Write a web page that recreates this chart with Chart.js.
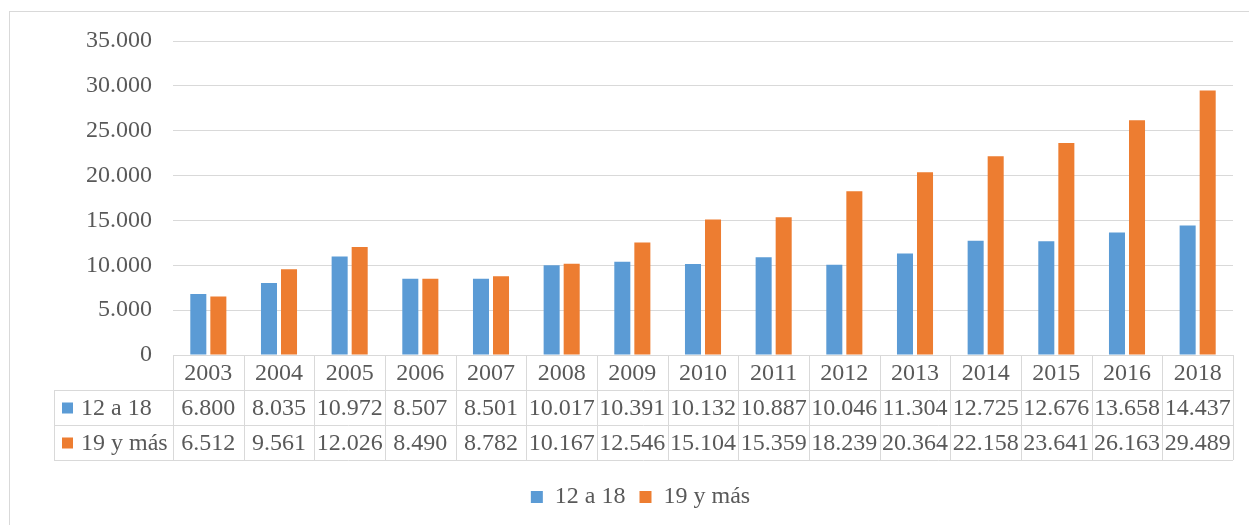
<!DOCTYPE html>
<html lang="es">
  <head>
    <meta charset="UTF-8" />
    <title>12 a 18 / 19 y más</title>
    <style>
      html, body { margin: 0; padding: 0; background: #fff; }
      #wrap { width: 1249px; height: 525px; position: relative; }
      #preload { position: absolute; left: -9999px; top: 0; font-family: 'Liberation Serif'; font-size: 24px; }
    </style>
  </head>
  <body>
    <div id="preload">12 a 18 19 y más 0123456789.</div>
    <div id="wrap"><canvas id="chart" width="1249" height="525"></canvas></div>

    <script src="https://cdn.jsdelivr.net/npm/chart.js@4.4.0/dist/chart.umd.min.js"></script>
    <script>
      // datos
      const years = ["2003", "2004", "2005", "2006", "2007", "2008", "2009", "2010", "2011", "2012", "2013", "2014", "2015", "2016", "2018"];
      const serie12a18 = [6800, 8035, 10972, 8507, 8501, 10017, 10391, 10132, 10887, 10046, 11304, 12725, 12676, 13658, 14437];
      const serie19ymas = [6512, 9561, 12026, 8490, 8782, 10167, 12546, 15104, 15359, 18239, 20364, 22158, 23641, 26163, 29489];
      const seriesNames = ["12 a 18", "19 y más"];
      const colors = ["#5B9BD5", "#ED7D31"];

      const FONT = "'Liberation Serif', 'Times New Roman', serif";
      const FSIZE = 24;
      const TXT = "#595959";
      const LINE = "#d9d9d9";
      const ROW_H = 35;
      const PAD_L = 48;
      const PAD_B = 6;

      function fmt(n) {
        return n.toString().replace(/\B(?=(\d{3})+(?!\d))/g, ".");
      }

      // tabla de datos debajo del eje x
      const dataTable = {
        id: "dataTable",
        beforeDraw(chart) {
          const ctx = chart.ctx;
          ctx.save();
          ctx.strokeStyle = LINE;
          ctx.lineWidth = 1;
          ctx.strokeRect(9.5, 11.5, 1400, 700);
          ctx.restore();
        },
        afterDraw(chart) {
          const ctx = chart.ctx;
          const xs = chart.scales.x;
          const area = chart.chartArea;
          const n = years.length;
          const w = xs.width / n;
          const top = Math.round(area.bottom);
          const left = Math.round(area.left);
          const right = Math.round(area.right);
          const labelLeft = 54;
          const rows = [serie12a18, serie19ymas];

          ctx.save();
          ctx.strokeStyle = LINE;
          ctx.lineWidth = 1;
          ctx.beginPath();
          // horizontales
          ctx.moveTo(left, top + 0.5);
          ctx.lineTo(right, top + 0.5);
          for (let r = 1; r <= 3; r++) {
            ctx.moveTo(labelLeft, top + r * ROW_H + 0.5);
            ctx.lineTo(right, top + r * ROW_H + 0.5);
          }
          // verticales
          for (let i = 0; i <= n; i++) {
            const xp = Math.round(xs.getPixelForValue(0) - w / 2 + i * w) + 0.5;
            ctx.moveTo(xp, top);
            ctx.lineTo(xp, top + 3 * ROW_H);
          }
          ctx.moveTo(labelLeft + 0.5, top + ROW_H);
          ctx.lineTo(labelLeft + 0.5, top + 3 * ROW_H);
          ctx.stroke();

          ctx.fillStyle = TXT;
          ctx.font = FSIZE + "px " + FONT;
          ctx.textAlign = "center";
          ctx.textBaseline = "middle";
          years.forEach((y, i) => {
            const cx = xs.getPixelForValue(i);
            ctx.fillText(y, cx, top + ROW_H / 2 + 1);
            rows.forEach((vals, r) => {
              ctx.fillText(fmt(vals[i]), cx, top + (r + 1) * ROW_H + ROW_H / 2 + 1);
            });
          });

          ctx.textAlign = "left";
          rows.forEach((vals, r) => {
            const cy = top + (r + 1) * ROW_H + ROW_H / 2;
            ctx.fillStyle = colors[r];
            ctx.fillRect(62, cy - 5, 11, 11);
            ctx.fillStyle = TXT;
            ctx.fillText(seriesNames[r], 81, cy + 1);
          });
          ctx.restore();
        },
      };

      function draw() {
        new Chart(document.getElementById("chart"), {
          type: "bar",
          data: {
            labels: years,
            datasets: [
              {
                label: seriesNames[0],
                data: serie12a18,
                backgroundColor: colors[0],
                categoryPercentage: 0.567,
                barPercentage: 0.8,
              },
              {
                label: seriesNames[1],
                data: serie19ymas,
                backgroundColor: colors[1],
                categoryPercentage: 0.567,
                barPercentage: 0.8,
              },
            ],
          },
          options: {
            responsive: false,
            animation: false,
            devicePixelRatio: 1,
            layout: { padding: { top: 41, right: 16, left: PAD_L, bottom: PAD_B } },
            plugins: {
              tooltip: { enabled: false },
              legend: {
                position: "bottom",
                labels: {
                  boxWidth: 12,
                  boxHeight: 12,
                  padding: 14,
                  color: TXT,
                  font: { family: FONT, size: FSIZE },
                },
              },
            },
            scales: {
              x: {
                grid: { display: false },
                border: { display: false },
                ticks: { display: false },
                afterFit(axis) {
                  const lh = axis.chart.legend ? axis.chart.legend.height : 48;
                  axis.height = 525 - 355 - lh - PAD_B;
                },
              },
              y: {
                min: 0,
                max: 35000,
                ticks: {
                  stepSize: 5000,
                  padding: 21,
                  color: TXT,
                  font: { family: FONT, size: FSIZE },
                  callback: (v) => fmt(v),
                },
                grid: { color: LINE, lineWidth: 1, drawTicks: false },
                border: { display: false },
                afterFit(axis) {
                  axis.width = 173 - PAD_L;
                },
              },
            },
          },
          plugins: [dataTable],
        });
      }

      if (document.fonts && document.fonts.load) {
        document.fonts.load(FSIZE + "px 'Liberation Serif'").then(draw, draw);
      } else {
        draw();
      }
    </script>
  </body>
</html>
